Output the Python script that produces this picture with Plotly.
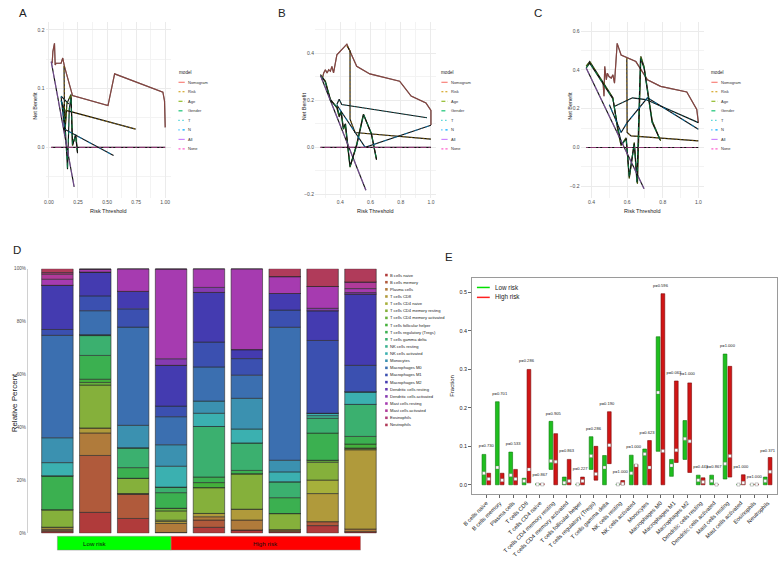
import numpy as np
import plotly.graph_objects as go

W, H = 779, 567
NARROW = "Liberation Sans Narrow, Arial Narrow, Liberation Sans, Arial, sans-serif"
SANS = "Liberation Sans, Arial, sans-serif"


def fx(p):
    return p / W


def fy(p):
    return 1 - p / H


# ======================= DATA: decision curves (A, B, C) =======================
models = ["Nomogram", "Risk", "Age", "Gender", "T", "N", "All", "None"]

A_nomogram_x = [0.028, 0.034, 0.048, 0.054, 0.062, 0.105, 0.119, 0.133, 0.203, 0.508, 0.565, 0.980, 0.994, 1.0]
A_nomogram_y = [0.143, 0.163, 0.177, 0.140, 0.143, 0.143, 0.152, 0.138, 0.088, 0.071, 0.125, 0.094, 0.079, 0.034]
A_risk_x = [0.130, 0.136, 0.147, 0.746]
A_risk_y = [0.138, 0.020, 0.063, 0.031]
A_age_x = [0.105, 0.120, 0.133, 0.140, 0.155, 0.190, 0.203, 0.230, 0.246]
A_age_y = [0.078, 0.073, 0.060, 0.030, 0.075, 0.090, 0.003, 0.022, -0.008]
A_gender_x = [0.105, 0.125, 0.140, 0.160, 0.175, 0.190, 0.203, 0.230, 0.246]
A_gender_y = [0.080, 0.065, 0.035, -0.037, 0.065, 0.085, 0.005, 0.020, -0.010]
A_t_x = [0.105, 0.170]
A_t_y = [0.087, 0.074]
A_n_x = [0.105, 0.135, 0.556]
A_n_y = [0.086, 0.031, -0.014]
A_all_x = [0.020, 0.217]
A_all_y = [0.146, -0.067]
A_none_x = [0.020, 1.000]
A_none_y = [0.0, 0.0]

B_nomogram_x = [0.280, 0.291, 0.302, 0.313, 0.324, 0.335, 0.345, 0.356, 0.378, 0.444, 0.509, 0.596, 0.793, 0.869, 0.967, 1.0, 1.0]
B_nomogram_y = [0.288, 0.316, 0.330, 0.316, 0.330, 0.323, 0.344, 0.316, 0.393, 0.438, 0.344, 0.312, 0.281, 0.218, 0.189, 0.157, 0.095]
B_risk_x = [0.445, 0.465, 0.465, 0.498, 1.0]
B_risk_y = [0.430, 0.410, 0.120, 0.063, 0.035]
B_age_x = [0.269, 0.302, 0.335, 0.378, 0.393, 0.407, 0.422, 0.433, 0.465, 0.509, 0.553, 0.607, 0.640]
B_age_y = [0.309, 0.281, 0.204, 0.168, 0.129, 0.154, 0.077, 0.098, -0.084, 0.014, 0.140, 0.056, -0.053]
B_gender_x = [0.269, 0.300, 0.335, 0.380, 0.395, 0.405, 0.420, 0.435, 0.465, 0.510, 0.555, 0.605, 0.640]
B_gender_y = [0.305, 0.280, 0.200, 0.170, 0.135, 0.150, 0.080, 0.100, -0.080, 0.010, 0.140, 0.060, -0.050]
B_t_x = [0.378, 0.393, 0.410, 0.974]
B_t_y = [0.182, 0.204, 0.182, 0.126]
B_n_x = [0.378, 0.440, 0.565, 1.0]
B_n_y = [0.180, 0.120, 0.000, 0.094]
B_all_x = [0.269, 0.570]
B_all_y = [0.306, -0.182]
B_none_x = [0.269, 1.0]
B_none_y = [0.0, 0.0]

C_nomogram_x = [0.465, 0.470, 0.474, 0.483, 0.489, 0.498, 0.511, 0.520, 0.529, 0.544, 0.566, 0.649, 0.714, 0.788, 0.935, 0.991, 1.0]
C_nomogram_y = [0.332, 0.264, 0.418, 0.349, 0.383, 0.366, 0.358, 0.375, 0.332, 0.537, 0.477, 0.443, 0.349, 0.315, 0.286, 0.196, 0.128]
C_risk_x = [0.598, 0.600, 0.622, 1.0]
C_risk_y = [0.460, 0.077, 0.060, 0.034]
C_age_x = [0.370, 0.390, 0.520, 0.548, 0.566, 0.594, 0.612, 0.640, 0.658, 0.677, 0.695, 0.741, 0.788]
C_age_y = [0.420, 0.443, 0.256, 0.085, 0.010, 0.050, -0.160, 0.025, -0.187, 0.470, 0.417, 0.136, 0.034]
C_gender_x = [0.370, 0.390, 0.520, 0.550, 0.570, 0.595, 0.612, 0.640, 0.655, 0.675, 0.695, 0.740, 0.785]
C_gender_y = [0.410, 0.435, 0.250, 0.090, 0.015, 0.045, -0.150, 0.020, -0.180, 0.460, 0.410, 0.130, 0.040]
C_t_x = [0.530, 0.630, 0.705, 1.0]
C_t_y = [0.213, 0.256, 0.247, 0.128]
C_n_x = [0.500, 0.566, 0.600, 0.714, 1.0]
C_n_y = [0.220, 0.077, 0.128, 0.256, 0.094]
C_all_x = [0.370, 0.695]
C_all_y = [0.410, -0.213]
C_none_x = [0.370, 1.0]
C_none_y = [0.0, 0.0]

# ======================= DATA: immune cell fractions (D, E) =======================
cell_types = [
    "B cells naive", "B cells memory", "Plasma cells", "T cells CD8", "T cells CD4 naive",
    "T cells CD4 memory resting", "T cells CD4 memory activated", "T cells follicular helper",
    "T cells regulatory (Tregs)", "T cells gamma delta", "NK cells resting", "NK cells activated",
    "Monocytes", "Macrophages M0", "Macrophages M1", "Macrophages M2", "Dendritic cells resting",
    "Dendritic cells activated", "Mast cells resting", "Mast cells activated", "Eosinophils", "Neutrophils",
]

# relative percent of each cell type (order as cell_types) per sample
sample_1 = [0.6, 0.4, 0.5, 0.8, 0, 6.6, 0, 0, 12.8, 0, 0, 5.0, 9.4, 38.7, 2.2, 16.7, 0, 0, 2.3, 1.9, 0.6, 1.5]
sample_2 = [7.9, 21.5, 8.5, 1.9, 0, 16.2, 1.0, 1.2, 9.0, 7.5, 0.3, 0, 0, 9.1, 5.6, 9.0, 0, 0, 1.2, 0, 0, 0]
sample_3 = [5.6, 9.1, 0.3, 0, 0, 5.8, 0, 0, 4.0, 7.5, 0, 0, 8.5, 37.1, 6.9, 6.6, 0, 0, 8.6, 0, 0, 0]
sample_4 = [0.3, 0, 3.4, 0.75, 0.5, 3.5, 1.0, 0, 5.9, 2.1, 0, 7.9, 8.1, 10.6, 4.0, 15.4, 0, 2.5, 34.0, 0, 0, 0]
sample_5 = [2.25, 2.75, 1.25, 1.25, 0, 9.75, 0, 1.9, 2.1, 19.1, 0, 5.0, 4.6, 12.9, 9.4, 18.75, 0, 1.9, 7.1, 0, 0, 0]
sample_6 = [1.25, 0, 3.75, 4.1, 0, 13.4, 0, 0, 1.25, 10.4, 0, 5.25, 11.6, 8.75, 6.25, 3.4, 0, 0, 30.6, 0, 0, 0]
sample_7 = [0.6, 0, 0.75, 0, 0, 6.1, 0, 0, 6.0, 6.0, 0, 3.75, 4.4, 50.25, 6.5, 6.25, 0, 0, 6.4, 0, 0, 3.0]
sample_8 = [2.9, 1.5, 0, 10.6, 5.1, 6.75, 0.75, 0, 10.25, 5.6, 1.0, 0.9, 0, 0, 27.5, 11.25, 0, 0.9, 8.25, 0, 0, 6.75]
sample_9 = [0.6, 0, 1.0, 30.0, 0, 0.6, 0, 1.5, 2.9, 12.1, 0, 4.75, 0, 0, 10.0, 26.9, 0, 0.6, 1.5, 2.5, 0, 5.0]
sample_groups = ["Low risk"] * 3 + ["High risk"] * 6
pct_ticks = [0, 20, 40, 60, 80, 100]

# panel E: per cell type, low-risk and high-risk ranges / medians and p-values
low_min = [0, 0, 0, 0, 0, 0.040, 0, 0, 0.040, 0, 0, 0, 0, 0.087, 0.022, 0.066, 0, 0, 0.015, 0, 0, 0]
low_max = [0.079, 0.216, 0.085, 0.017, 0.003, 0.165, 0.020, 0.002, 0.125, 0.076, 0.002, 0.077, 0.093, 0.385, 0.066, 0.167, 0.025, 0.025, 0.340, 0.001, 0.001, 0.020]
low_med = [0.030, 0.045, 0.025, 0.010, 0.001, 0.062, 0.005, 0.001, 0.075, 0.045, 0.001, 0.030, 0.080, 0.240, 0.050, 0.120, 0.012, 0.010, 0.055, 0.0005, 0.0005, 0.010]
high_min = [0, 0, 0, 0.005, 0, 0, 0, 0, 0.012, 0.055, 0, 0, 0, 0, 0.058, 0.032, 0, 0, 0.020, 0, 0, 0]
high_max = [0.030, 0.030, 0.040, 0.300, 0.003, 0.133, 0.066, 0.020, 0.100, 0.190, 0.011, 0.053, 0.115, 0.497, 0.270, 0.265, 0.018, 0.001, 0.308, 0.026, 0.002, 0.071]
high_med = [0.015, 0.012, 0.015, 0.040, 0.001, 0.060, 0.010, 0.010, 0.028, 0.103, 0.003, 0.050, 0.045, 0.088, 0.090, 0.113, 0.007, 0.0005, 0.075, 0.005, 0.001, 0.034]
p_values = ["0.730", "0.701", "0.533", "0.286", "0.867", "0.905", "0.863", "0.227", "0.286", "0.190", "1.000",
            "1.000", "0.623", "0.596", "0.063", "1.000", "0.443", "0.867", "1.000", "1.000", "1.000", "0.371"]
p_label_y = [0.100, 0.236, 0.107, 0.321, 0.025, 0.184, 0.087, 0.042, 0.145, 0.211, 0.032,
             0.098, 0.136, 0.518, 0.291, 0.287, 0.046, 0.046, 0.361, 0.047, 0.020, 0.088]

# ======================= STYLES =======================
model_colors = ["#F8766D", "#CD9600", "#7CAE00", "#00BE67", "#00BFC4", "#00A9FF", "#C77CFF", "#FF61CC"]
model_dash = ["solid", "2px,2px", "4px,2px", "4px,4px", "1px,3px", "1px,3px,4px,3px", "7px,3px", "2px,2px,6px,2px"]
cell_colors = [
    "#b03b3b", "#b05a3b", "#b07b3b", "#b09a3b", "#a6b03b", "#85b03b", "#66b03b", "#44b03b",
    "#3bb050", "#3bb06f", "#3bb091", "#3bb0b0", "#3b91b0", "#3b6fb0", "#3b50b0", "#443bb0",
    "#663bb0", "#853bb0", "#a63bb0", "#b03b9a", "#b03b7b", "#b03b5a",
]

fig = go.Figure()
annotations = []
shapes = []


def note(x, y, text, size, family=SANS, color="#222", xanchor="center", yanchor="middle", angle=0,
         xref="paper", yref="paper"):
    annotations.append(dict(x=x, y=y, xref=xref, yref=yref, text=text, showarrow=False, textangle=angle,
                            xanchor=xanchor, yanchor=yanchor, borderpad=0,
                            font=dict(family=family, size=size, color=color)))


# ======================= PANELS A, B, C =======================
panels = [
    dict(key="A", sfx="", px=(36, 163), xr=[-0.029, 1.049], xdt=0.25, xfmt=".2f", yr=[-0.0865, 0.2135], ydt=0.1,
         leg=(170, 170.7, 177.0, 179.3), letter_x=13,
         curves=[(A_nomogram_x, A_nomogram_y), (A_risk_x, A_risk_y), (A_age_x, A_age_y), (A_gender_x, A_gender_y),
                 (A_t_x, A_t_y), (A_n_x, A_n_y), (A_all_x, A_all_y), (A_none_x, A_none_y)]),
    dict(key="B", sfx="2", px=(309, 432), xr=[0.2335, 1.0365], xdt=0.2, xfmt=".1f", yr=[-0.216, 0.533], ydt=0.2,
         leg=(436, 437.0, 443.3, 446.0), letter_x=276,
         curves=[(B_nomogram_x, B_nomogram_y), (B_risk_x, B_risk_y), (B_age_x, B_age_y), (B_gender_x, B_gender_y),
                 (B_t_x, B_t_y), (B_n_x, B_n_y), (B_all_x, B_all_y), (B_none_x, B_none_y)]),
    dict(key="C", sfx="3", px=(578, 703), xr=[0.3385, 1.0315], xdt=0.2, xfmt=".1f", yr=[-0.262, 0.648], ydt=0.2,
         leg=(709.5, 710.5, 716.8, 719.3), letter_x=535,
         curves=[(C_nomogram_x, C_nomogram_y), (C_risk_x, C_risk_y), (C_age_x, C_age_y), (C_gender_x, C_gender_y),
                 (C_t_x, C_t_y), (C_n_x, C_n_y), (C_all_x, C_all_y), (C_none_x, C_none_y)]),
]

layout_axes = {}
tick_font = dict(family=NARROW, size=5, color="#4D4D4D")
for p in panels:
    xa_name, ya_name = "x" + p["sfx"], "y" + p["sfx"]
    for i, (xs, ys) in enumerate(p["curves"]):
        fig.add_trace(go.Scatter(x=xs, y=ys, mode="lines", line=dict(color="#111111", width=1.15),
                                 xaxis=xa_name, yaxis=ya_name, hoverinfo="skip"))
        fig.add_trace(go.Scatter(x=xs, y=ys, mode="lines", opacity=0.5,
                                 line=dict(color=model_colors[i], width=1.15, dash=model_dash[i]),
                                 xaxis=xa_name, yaxis=ya_name, name=models[i]))
    layout_axes["xaxis" + p["sfx"]] = dict(
        domain=[fx(p["px"][0]), fx(p["px"][1])], range=p["xr"], anchor=ya_name,
        tickmode="linear", tick0=0, dtick=p["xdt"], tickformat=p["xfmt"],
        showgrid=True, gridcolor="#EBEBEB", gridwidth=0.8,
        minor=dict(tick0=0, dtick=p["xdt"] / 2, showgrid=True, gridcolor="#F3F3F3", gridwidth=0.5),
        zeroline=False, showline=False, ticks="", tickfont=tick_font)
    layout_axes["yaxis" + p["sfx"]] = dict(
        domain=[fy(198), fy(20)], range=p["yr"], anchor=xa_name,
        tickmode="linear", tick0=0, dtick=p["ydt"], tickformat=".1f",
        showgrid=True, gridcolor="#EBEBEB", gridwidth=0.8,
        minor=dict(tick0=0, dtick=p["ydt"] / 2, showgrid=True, gridcolor="#F3F3F3", gridwidth=0.5),
        zeroline=False, showline=False, ticks="", tickfont=tick_font)
    cx = (p["px"][0] + p["px"][1]) / 2
    note(fx(cx), fy(211), "Risk Threshold", 5.5, NARROW)
    note(fx(p["px"][0] - 11), fy(105), "Net Benefit", 5.5, NARROW, angle=-90)
    note(fx(p["letter_x"]), fy(11), p["key"], 11.5)
    # legend
    tx, lx0, lx1, ttx = p["leg"]
    note(fx(tx), fy(71.5), "model", 4.6, NARROW, xanchor="left")
    for i, m in enumerate(models):
        yy = 81 + 9.6 * i
        shapes.append(dict(type="line", xref="paper", yref="paper", x0=fx(lx0), x1=fx(lx1), y0=fy(yy), y1=fy(yy),
                           line=dict(color=model_colors[i], width=1.1, dash=model_dash[i])))
        note(fx(ttx), fy(yy), m, 4, NARROW, color="#333", xanchor="left")

# ======================= PANEL D =======================
samples = [sample_1, sample_2, sample_3, sample_4, sample_5, sample_6, sample_7, sample_8, sample_9]
mat = np.array(samples, dtype=float)          # (n_samples, n_cells)
sample_pos = np.arange(1, len(samples) + 1)
bases = np.cumsum(mat, axis=1) - mat
for k, cell in enumerate(cell_types):
    fig.add_trace(go.Bar(x=sample_pos, y=mat[:, k], base=bases[:, k], width=0.83, name=cell,
                         marker=dict(color=cell_colors[k], line=dict(color="#2a2a2a", width=0.6)),
                         opacity=1, xaxis="x4", yaxis="y4"))
layout_axes["xaxis4"] = dict(domain=[fx(18), fx(375)], range=[0.218, 9.52], anchor="y4", showticklabels=False,
                             showgrid=False, zeroline=False, showline=False, ticks="")
layout_axes["yaxis4"] = dict(domain=[fy(536), fy(269)], range=[0, 100], anchor="x4",
                             tickmode="array", tickvals=pct_ticks, ticktext=[f"{v}%" for v in pct_ticks],
                             showgrid=False, zeroline=False,
                             showline=True, linecolor="#d0d0d0", linewidth=1, ticks="",
                             tickfont=dict(family=NARROW, size=4.6, color="#4D4D4D"))
note(fx(5), fy(404), "Relative Percent", 8, angle=-90)
note(fx(7), fy(250), "D", 11.5)
# group bar under the samples
n_low = sample_groups.count("Low risk")
low_pos = sample_pos[:n_low]
high_pos = sample_pos[n_low:]
for x0, x1, col, label, tpos in [(low_pos[0], high_pos[0], "#00ff00", "Low risk", low_pos.mean()),
                                 (high_pos[0], high_pos[-1], "#ff0000", "High risk", high_pos.mean())]:
    shapes.append(dict(type="rect", xref="x4", yref="paper", x0=x0, x1=x1, y0=fy(553), y1=fy(539),
                       fillcolor=col, line=dict(color="#8a8a8a", width=0.5), layer="above"))
    note(tpos, fy(546), label, 6.2, NARROW, color="#111", xref="x4")
# legend for D
for k, cell in enumerate(cell_types):
    yy = 275.5 + 7.2 * k
    shapes.append(dict(type="rect", xref="paper", yref="paper", x0=fx(380), x1=fx(382.6),
                       y0=fy(yy + 1.3), y1=fy(yy - 1.3), fillcolor=cell_colors[k], line=dict(width=0)))
    note(fx(384), fy(yy), cell, 4.1, NARROW, xanchor="left")

# ======================= PANEL E =======================
idx = np.arange(len(cell_types))
lo_min, lo_max = np.array(low_min), np.array(low_max)
hi_min, hi_max = np.array(high_min), np.array(high_max)
fig.add_trace(go.Bar(x=idx, y=lo_max - lo_min, base=lo_min, offset=-0.32, width=0.28, name="Low risk",
                     marker=dict(color="#1fbf1f", line=dict(color="#0b7a0b", width=0.6)), opacity=1,
                     xaxis="x5", yaxis="y5"))
fig.add_trace(go.Bar(x=idx, y=hi_max - hi_min, base=hi_min, offset=0.04, width=0.28, name="High risk",
                     marker=dict(color="#d01515", line=dict(color="#7a0a0a", width=0.6)), opacity=1,
                     xaxis="x5", yaxis="y5"))
fig.add_trace(go.Scatter(x=idx - 0.18, y=low_med, mode="markers", xaxis="x5", yaxis="y5",
                         marker=dict(symbol="square", size=3, color="white", line=dict(color="#777", width=0.4))))
fig.add_trace(go.Scatter(x=idx + 0.18, y=high_med, mode="markers", xaxis="x5", yaxis="y5",
                         marker=dict(symbol="square", size=3, color="white", line=dict(color="#777", width=0.4))))
fig.add_trace(go.Scatter(x=idx, y=p_label_y, mode="text", text=["p=" + p for p in p_values],
                         textfont=dict(family=NARROW, size=4.1, color="#222"), xaxis="x5", yaxis="y5"))
layout_axes["xaxis5"] = dict(domain=[fx(468), fx(777)], range=[-1.07, 21.7], anchor="y5",
                             tickmode="array", tickvals=list(idx), ticktext=cell_types, tickangle=-45,
                             ticks="outside", ticklen=3, tickcolor="#666", showgrid=False, zeroline=False,
                             showline=True, mirror=True, linecolor="#9a9a9a", linewidth=1,
                             tickfont=dict(family=NARROW, size=5.7, color="#222"))
layout_axes["yaxis5"] = dict(domain=[fy(496), fy(278)], range=[-0.023, 0.539], anchor="x5",
                             tickmode="linear", tick0=0, dtick=0.1, tickformat=".1f",
                             ticks="outside", ticklen=3, tickcolor="#666", showgrid=False, zeroline=False,
                             showline=True, mirror=True, linecolor="#9a9a9a", linewidth=1,
                             tickfont=dict(family=NARROW, size=5.4, color="#222"))
note(fx(447), fy(387), "Fraction", 6, NARROW, angle=-90)
note(fx(445), fy(257), "E", 11.5)
for yy, col, label in [(288, "#00e000", "Low risk"), (298, "#ff2020", "High risk")]:
    shapes.append(dict(type="line", xref="paper", yref="paper", x0=fx(473), x1=fx(486), y0=fy(yy), y1=fy(yy),
                       line=dict(color=col, width=1.5)))
    note(fx(490), fy(yy), label, 6.3, NARROW, xanchor="left")

fig.update_layout(width=W, height=H, margin=dict(l=0, r=0, t=0, b=0), paper_bgcolor="white",
                  plot_bgcolor="white", showlegend=False, barmode="overlay",
                  annotations=annotations, shapes=shapes, **layout_axes)

fig.write_html("out.html")
